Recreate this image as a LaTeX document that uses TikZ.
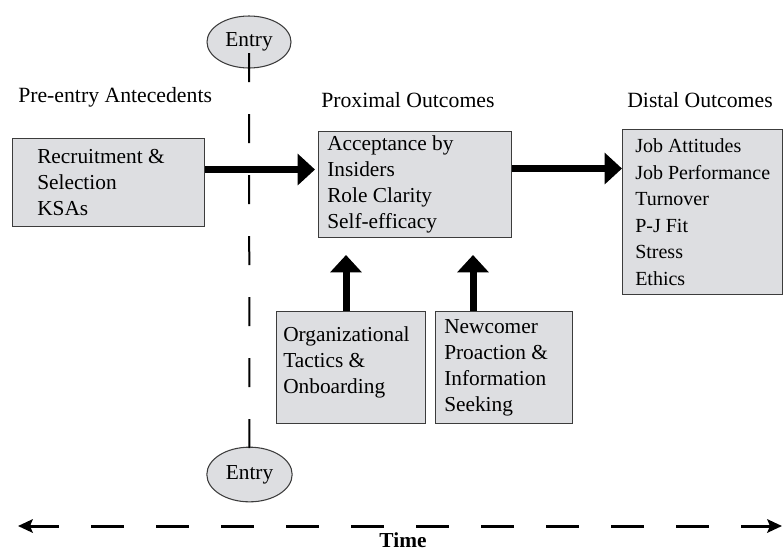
\documentclass[tikz,border=0pt]{standalone}
\usepackage{fontspec}
\setmainfont{Liberation Serif}
\usetikzlibrary{positioning}
\usetikzlibrary{arrows.meta}
\usetikzlibrary{shapes.geometric}

\definecolor{boxgray}{RGB}{221,222,225}
\definecolor{edgegray}{RGB}{60,60,60}

\tikzset{
  stage/.style={draw=edgegray, line width=0.8pt, fill=boxgray, inner sep=0pt, anchor=north west},
  stagetext/.style={anchor=west, align=left, inner sep=0pt, font=\fontsize{16}{19.5}\selectfont},
  heading/.style={anchor=west, inner sep=0pt, font=\fontsize{16.3}{19.5}\selectfont},
  entry/.style={ellipse, draw=edgegray, line width=0.8pt, fill=boxgray, inner sep=0pt, font=\fontsize{16}{19.5}\selectfont},
  bigarrow/.style={line width=5.25pt, -{Triangle[length=13pt,width=23pt]}},
  timeline/.style={line width=2.25pt, {Stealth[length=11pt,width=10pt,inset=2pt]}-{Stealth[length=11pt,width=10pt,inset=2pt]},
    dash pattern=on 24.75pt off 24pt, dash phase=2.25pt}
}

\begin{document}
\begin{tikzpicture}[x=0.75pt, y=-0.75pt]
  \useasboundingbox (0,0) rectangle (783,551);

  % headings
  \node[heading] (hdpre) at (18,97) {Pre-entry Antecedents};
  \node[heading] (hdprox) at (321,100) {Proximal Outcomes};
  \node[heading] (hddist) at (627,100) {Distal Outcomes};

  % entry markers
  \node[entry, minimum width=63pt, minimum height=39pt] (entrytop) at (249,42) {Entry};
  \node[entry, minimum width=64pt, minimum height=41pt] (entrybot) at (249.5,474.5) {Entry};
  \draw[line width=1.5pt, dash pattern=on 21.75pt off 24pt] ([yshift=-8.25pt]entrytop.center) -- ([yshift=-4.5pt]entrybot.north);

  % boxes
  \node[stage, minimum width=144pt, minimum height=66pt] (recsel) at (12,138) {};
  \node[stagetext] (recseltxt) at ([xshift=18.75pt]recsel.west) {Recruitment \&\\Selection\\KSAs};

  \node[stage, minimum width=144.75pt, minimum height=79.5pt] (accept) at (318,131) {};
  \node[stagetext] (accepttxt) at ([xshift=6.75pt]accept.west) {Acceptance by\\Insiders\\Role Clarity\\Self-efficacy};

  \node[stage, minimum width=120pt, minimum height=123.75pt] (distal) at (622,129) {};
  \node[stagetext, font=\fontsize{15}{19.9}\selectfont] (distaltxt) at ([xshift=9.75pt]distal.west)
    {Job Attitudes\\Job Performance\\Turnover\\P-J Fit\\Stress\\Ethics};

  \node[stage, minimum width=111.75pt, minimum height=84pt] (orgtac) at (276,311) {};
  \node[stagetext] (orgtactxt) at ([xshift=5.25pt,yshift=4pt]orgtac.west) {Organizational\\Tactics \&\\Onboarding};

  \node[stage, minimum width=102.75pt, minimum height=84pt] (newpro) at (435,311) {};
  \node[stagetext] (newprotxt) at ([xshift=6.75pt]newpro.west) {Newcomer\\Proaction \&\\Information\\Seeking};

  % arrows
  \draw[bigarrow, shorten >=2.25pt] ([yshift=9.75pt]recsel.east) -- ([yshift=9.75pt]recsel.east -| accept.west);
  \draw[bigarrow] ([yshift=12pt]accept.east) -- ([yshift=12pt]accept.east -| distal.west);
  \coordinate (orgtip) at (346,255);
  \coordinate (newtip) at (473,255);
  \draw[bigarrow] (orgtac.north -| orgtip) -- (orgtip);
  \draw[bigarrow] (newpro.north -| newtip) -- (newtip);

  % time axis
  \coordinate (tstart) at (18,526);
  \coordinate (tend) at (782,526);
  \draw[timeline] (tstart) -- (tend);
  \node[inner sep=0pt, font=\bfseries\fontsize{16}{19}\selectfont] (time) at (403,540) {Time};
\end{tikzpicture}
\end{document}
